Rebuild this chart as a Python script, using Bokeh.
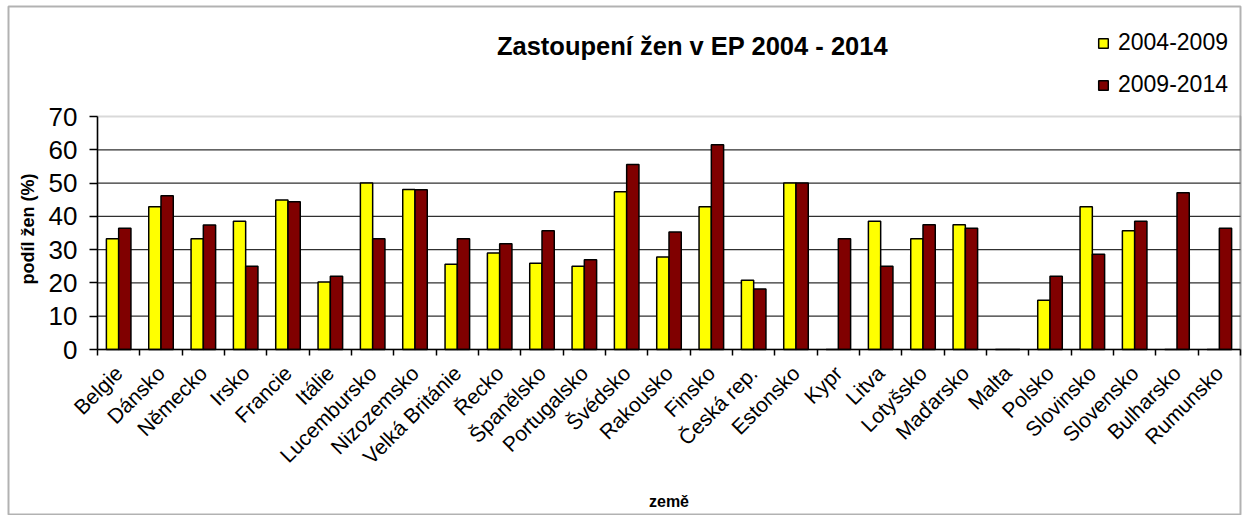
from math import pi
from bokeh.plotting import figure
from bokeh.models import (Range1d, LinearAxis, FixedTicker, Legend, LegendItem, Label,
                          ColumnDataSource, BoxAnnotation)
from bokeh.embed import file_html
from bokeh.resources import INLINE

countries = ["Belgie", "Dánsko", "Německo", "Irsko", "Francie", "Itálie", "Lucembursko",
             "Nizozemsko", "Velká Británie", "Řecko", "Španělsko", "Portugalsko", "Švédsko",
             "Rakousko", "Finsko", "Česká rep.", "Estonsko", "Kypr", "Litva", "Lotyšsko",
             "Maďarsko", "Malta", "Polsko", "Slovinsko", "Slovensko", "Bulharsko", "Rumunsko"]
v2004 = [33.3, 42.9, 33.3, 38.5, 44.9, 20.3, 50.0, 48.1, 25.6, 29.0, 25.9, 25.0, 47.4,
         27.8, 42.9, 20.8, 50.0, 0, 38.5, 33.3, 37.5, 0, 14.8, 42.9, 35.7, 0, 0]
v2009 = [36.4, 46.2, 37.4, 25.0, 44.4, 22.0, 33.3, 48.0, 33.3, 31.8, 35.7, 27.0, 55.6,
         35.3, 61.5, 18.2, 50.0, 33.3, 25.0, 37.5, 36.4, 0, 22.0, 28.6, 38.5, 47.1, 36.4]
series = ["2004-2009", "2009-2014"]
y_ticks = [0, 10, 20, 30, 40, 50, 60, 70]
title_text = "Zastoupení žen v EP 2004 - 2014"
y_label = "podíl žen (%)"
x_label = "země"

FONT = "Liberation Sans"
N = len(countries)
Y_MAX = 70
OFF = 0.145          # dodge offset of the two bars
BAR_W = 0.29

W, H = 1247, 515
# geometry of the plotting area inside the canvas (pixels)
AX_LEFT, AX_RIGHT = 97, 1240      # x = 0 .. N
AX_TOP, AX_BOTTOM = 116, 349      # y = 70 .. 0
px_x = (AX_RIGHT - AX_LEFT) / N
px_y = (AX_BOTTOM - AX_TOP) / Y_MAX


def dx(px):
    return (px - AX_LEFT) / px_x


def dy(py):
    return (AX_BOTTOM - py) / px_y


x_range = Range1d(dx(0), dx(W))
y_range = Range1d(dy(H), dy(0))

idx = list(range(N))
src = ColumnDataSource(dict(
    xa=[i + 0.5 - OFF for i in idx], xb=[i + 0.5 + OFF for i in idx],
    a=v2004, b=v2009))

p = figure(x_range=x_range, y_range=y_range, width=W, height=H,
           output_backend="svg", toolbar_location=None,
           x_axis_location=None, y_axis_location=None, min_border=0)

# outer chart border
p.add_layout(BoxAnnotation(left=dx(8), right=dx(1240), bottom=dy(514), top=dy(6),
                           fill_color=None, fill_alpha=0, line_color="black",
                           line_width=2, level="underlay"))
# plot-area border and horizontal gridlines
p.add_layout(BoxAnnotation(left=0, right=N, bottom=0, top=Y_MAX, fill_color=None,
                           fill_alpha=0, line_color="#808080", line_width=2, level="underlay"))
grid_y = y_ticks[1:-1]
p.segment(x0=[0] * len(grid_y), x1=[N] * len(grid_y), y0=grid_y, y1=grid_y,
          line_color="#303030", line_width=1.2, level="underlay")

r1 = p.vbar(x="xa", top="a", width=BAR_W, source=src,
            fill_color="#FFFF00", line_color="black", line_width=1.5)
r2 = p.vbar(x="xb", top="b", width=BAR_W, source=src,
            fill_color="#800000", line_color="black", line_width=1.5)

# x axis: tick marks between categories
tick_axis = LinearAxis(fixed_location=0, bounds=(0, N),
                       ticker=FixedTicker(ticks=list(range(N + 1))),
                       major_tick_out=6, major_tick_in=0, minor_tick_line_color=None,
                       major_label_text_font_size="1px", major_label_text_color=None,
                       axis_line_color="black", axis_line_width=1.5,
                       major_tick_line_color="black", major_tick_line_width=1.5)
p.add_layout(tick_axis, "below")

# x axis: category names at the category centres
centres = [i + 0.5 for i in idx]
label_axis = LinearAxis(fixed_location=0, ticker=FixedTicker(ticks=centres),
                        major_label_overrides={c: n for c, n in zip(centres, countries)},
                        major_tick_line_color=None, major_tick_out=0, major_tick_in=0,
                        minor_tick_line_color=None, axis_line_color=None,
                        major_label_orientation=pi / 4, major_label_standoff=20,
                        major_label_text_font=FONT, major_label_text_font_size="21px",
                        major_label_text_color="black")
p.add_layout(label_axis, "below")

# y axis
y_axis = LinearAxis(fixed_location=0, bounds=(0, Y_MAX), ticker=FixedTicker(ticks=y_ticks),
                    major_tick_out=8, major_tick_in=0, minor_tick_line_color=None,
                    axis_line_color="black", axis_line_width=1.5,
                    major_tick_line_color="black", major_tick_line_width=1.5,
                    major_label_standoff=12, major_label_text_font=FONT,
                    major_label_text_font_size="26px", major_label_text_color="black")
p.add_layout(y_axis, "left")

p.xgrid.visible = False
p.ygrid.visible = False

p.outline_line_color = None
p.background_fill_color = "white"
p.border_fill_color = "white"

# texts
p.add_layout(Label(x=dx(692), y=dy(45), text=title_text,
                   text_align="center", text_baseline="middle", text_font=FONT,
                   text_font_size="25.5px", text_font_style="bold", text_color="black"))
p.add_layout(Label(x=dx(27), y=dy(228.5), text=y_label,
                   angle=pi / 2, text_align="center", text_baseline="middle",
                   text_font=FONT, text_font_size="18px", text_font_style="bold",
                   text_color="black"))
p.add_layout(Label(x=N / 2, y=dy(501), text=x_label,
                   text_align="center", text_baseline="middle", text_font=FONT,
                   text_font_size="16px", text_font_style="bold", text_color="black"))

legend = Legend(items=[LegendItem(label=series[0], renderers=[r1]),
                       LegendItem(label=series[1], renderers=[r2])],
                location=(1097, 417), glyph_width=12, glyph_height=12, label_standoff=9,
                spacing=15, padding=0, margin=0, label_height=23,
                label_text_font=FONT, label_text_font_size="23px", label_text_color="black",
                label_text_baseline="middle",
                border_line_color=None, background_fill_alpha=0)
p.add_layout(legend)

open("out.html", "w").write(file_html(p, INLINE))
